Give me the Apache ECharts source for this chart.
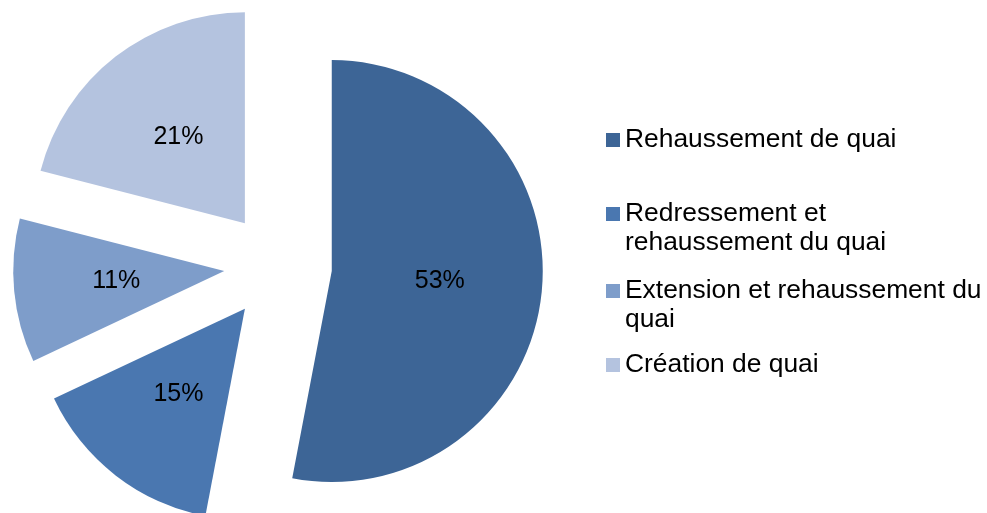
<!DOCTYPE html>
<html>
<head>
<meta charset="utf-8">
<script src="https://cdn.jsdelivr.net/npm/echarts@6/dist/echarts.min.js"></script>
<style>
  html, body { margin: 0; padding: 0; background: #ffffff; }
  #chart { width: 987px; height: 513px; }
</style>
</head>
<body>
<div id="chart"></div>
<script>
const categories = [
  "Rehaussement de quai",
  "Redressement et\nrehaussement du quai",
  "Extension et rehaussement du\nquai",
  "Création de quai"
];
const shares = [53, 15, 11, 21];
const colors = ["#3d6596", "#4a77b0", "#7e9dca", "#b4c3df"];

// marker centre y of each legend entry
const markerY = [140, 214, 291, 365];
const lineH = 29;

const chart = echarts.init(document.getElementById("chart"), null, { renderer: "canvas" });

const legends = categories.map((name, i) => {
  const twoLines = name.indexOf("\n") >= 0;
  // blank first line keeps the marker level with the first text line
  const top = twoLines ? markerY[i] - 1.5 * lineH : markerY[i] - lineH / 2;
  return {
    data: [name],
    left: 606,
    top: top,
    padding: 0,
    orient: "vertical",
    icon: "rect",
    itemWidth: 14,
    itemHeight: 14,
    selectedMode: false,
    formatter: n => (twoLines ? "\n" + n : n),
    textStyle: {
      fontFamily: "Liberation Sans, Arial, sans-serif",
      fontSize: 26.4,
      color: "#000000",
      lineHeight: lineH
    }
  };
});

chart.setOption({
  animation: false,
  backgroundColor: "#ffffff",
  legend: legends,
  series: [
    {
      type: "pie",
      center: [278, 266],
      radius: [0, 211],
      startAngle: 90,
      clockwise: true,
      selectedMode: "multiple",
      selectedOffset: 54,
      avoidLabelOverlap: false,
      label: {
        position: "inside",
        formatter: "{c}%",
        fontFamily: "Liberation Sans, Arial, sans-serif",
        fontSize: 25,
        color: "#000000"
      },
      labelLine: { show: false },
      emphasis: { scale: false, label: { show: true } },
      select: {
        itemStyle: { borderWidth: 0 },
        label: { color: "#000000" }
      },
      itemStyle: { borderWidth: 0 },
      data: categories.map((name, i) => ({
        name: name,
        value: shares[i],
        selected: true,
        itemStyle: { color: colors[i] }
      }))
    }
  ]
});
</script>
</body>
</html>
